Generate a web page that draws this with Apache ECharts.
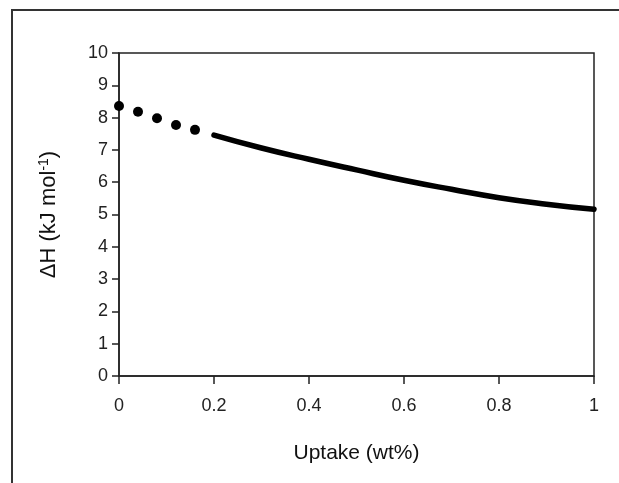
<!DOCTYPE html>
<html>
<head>
<meta charset="utf-8">
<script src="https://cdn.jsdelivr.net/npm/echarts@6/dist/echarts.min.js"></script>
<style>
  html, body { margin: 0; padding: 0; background: #fff; }
  #chart { width: 619px; height: 483px; }
</style>
</head>
<body>
<div id="chart"></div>
<script>
// dotted part (low uptake)
const dotUptake = [0, 0.04, 0.08, 0.12, 0.16]
const dotDH = [8.36, 8.18, 7.98, 7.77, 7.62]

// solid curve
const lineUptake = [0.2, 0.3, 0.4, 0.5, 0.6, 0.7, 0.8, 0.9, 1.0]
const lineDH = [7.46, 7.06, 6.71, 6.38, 6.06, 5.78, 5.52, 5.32, 5.16]

const xTicks = [0, 0.2, 0.4, 0.6, 0.8, 1]

const chart = echarts.init(document.getElementById('chart'))

const font = 'Liberation Sans, Arial, sans-serif'

chart.setOption({
  animation: false,
  grid: {
    left: 119, top: 53, right: 25, bottom: 107,
    show: true, borderColor: '#222', borderWidth: 1.5
  },
  xAxis: {
    type: 'value',
    min: 0, max: 1, interval: 0.2,
    name: 'Uptake (wt%)',
    nameLocation: 'middle',
    nameGap: 67,
    nameTextStyle: { fontFamily: font, fontSize: 21, color: '#111' },
    axisLine: { lineStyle: { color: '#222', width: 1.5 } },
    axisTick: { length: 8, lineStyle: { color: '#222', width: 1.5 } },
    axisLabel: {
      margin: 21, fontFamily: font, fontSize: 18, color: '#222',
      formatter: (v) => xTicks.includes(+v.toFixed(1)) ? String(+v.toFixed(1)) : ''
    },
    splitLine: { show: false }
  },
  yAxis: {
    type: 'value',
    min: 0, max: 10, interval: 1,
    name: 'ΔH (kJ mol{sup|-1})',
    nameLocation: 'middle',
    nameGap: 58,
    nameTextStyle: {
      fontFamily: font, fontSize: 22, color: '#111',
      rich: { sup: { fontFamily: font, fontSize: 14, color: '#111', verticalAlign: 'top', padding: [0, 0, 10, 0] } }
    },
    axisLine: { show: true, lineStyle: { color: '#222', width: 1.5 } },
    axisTick: { show: true, length: 7, lineStyle: { color: '#222', width: 1.5 } },
    axisLabel: { margin: 11, fontFamily: font, fontSize: 18, color: '#222' },
    splitLine: { show: false }
  },
  series: [
    {
      type: 'scatter',
      data: dotUptake.map((x, i) => [x, dotDH[i]]),
      symbol: 'circle',
      symbolSize: 10,
      itemStyle: { color: '#000', opacity: 1 }
    },
    {
      type: 'line',
      data: lineUptake.map((x, i) => [x, lineDH[i]]),
      smooth: true,
      showSymbol: false,
      lineStyle: { color: '#000', width: 5.5, cap: 'round' }
    }
  ],
  graphic: [
    { type: 'line', shape: { x1: 11, y1: 10, x2: 619, y2: 10 }, style: { stroke: '#333', lineWidth: 2 } },
    { type: 'line', shape: { x1: 12, y1: 10, x2: 12, y2: 483 }, style: { stroke: '#333', lineWidth: 2 } }
  ]
})
</script>
</body>
</html>
